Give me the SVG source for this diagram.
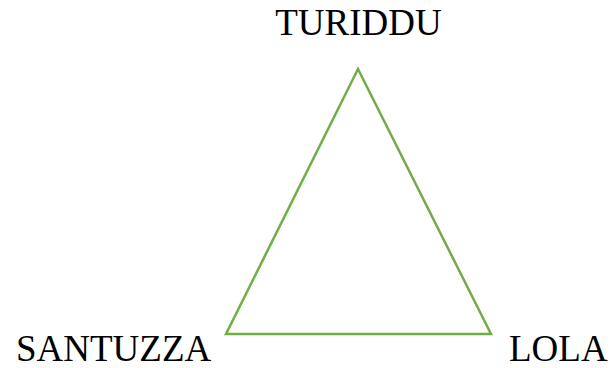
<svg xmlns="http://www.w3.org/2000/svg" width="615" height="368" viewBox="0 0 615 368">
<style>
.lbl{font-family:"Liberation Serif","Times New Roman",serif;font-size:37px;fill:#000}
.edge{fill:none;stroke:#70AD47;stroke-width:2.5;stroke-linejoin:miter}
</style>
<rect width="615" height="368" fill="#fff"/>
<g id="connectors">
<polygon class="edge" points="358,69 226,334 491,334"/>
</g>
<g id="turiddu"><text class="lbl" x="358.5" y="35" text-anchor="middle">TURIDDU</text></g>
<g id="santuzza"><text class="lbl" x="16" y="361">SANTUZZA</text></g>
<g id="lola"><text class="lbl" x="509" y="361">LOLA</text></g>
</svg>
